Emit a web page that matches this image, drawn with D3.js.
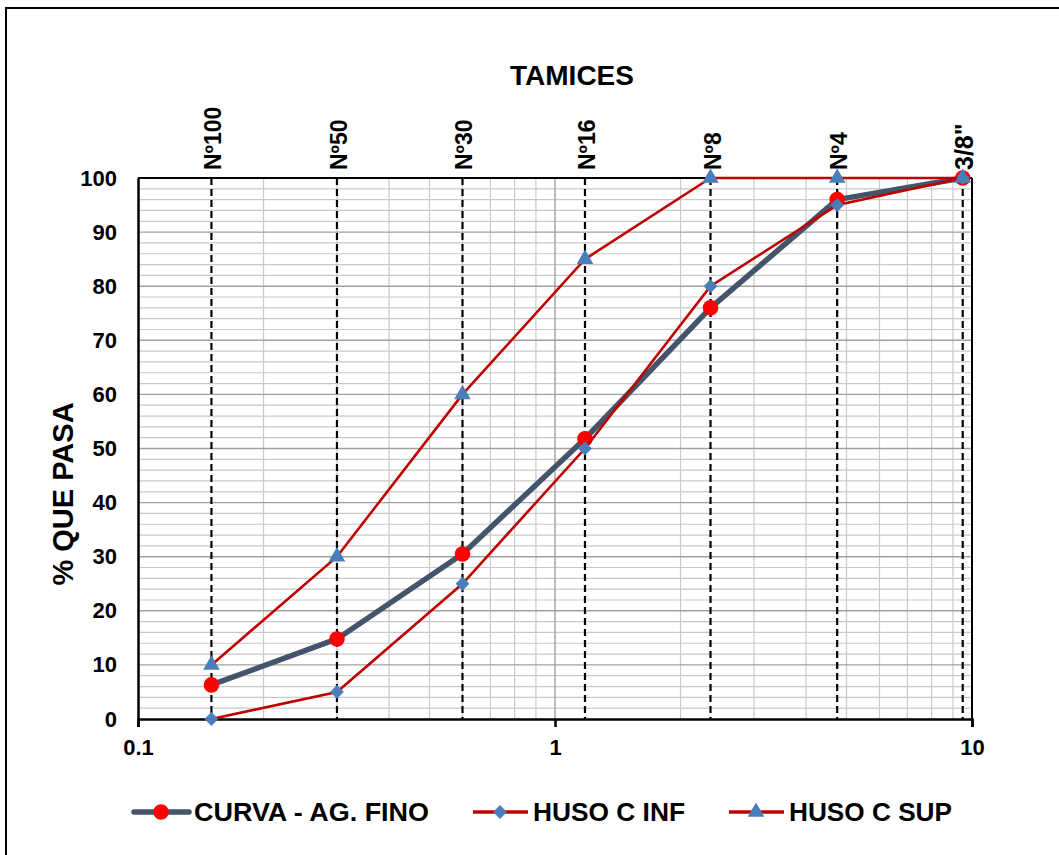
<!DOCTYPE html>
<html>
<head>
<meta charset="utf-8">
<script src="https://cdn.jsdelivr.net/npm/d3@7"></script>
<style>
  html, body { margin: 0; padding: 0; background: #fff; }
  svg { display: block; font-family: "Liberation Sans", Arial, sans-serif; font-weight: bold; }
</style>
</head>
<body>
<svg id="chart" width="1059" height="855"></svg>
<script>
// ---- data ----
const sieves = ["Nº100", "Nº50", "Nº30", "Nº16", "Nº8", "Nº4", "3/8\""];
const apertures = [0.15, 0.3, 0.6, 1.18, 2.36, 4.75, 9.5];
const curva = [6.3, 14.8, 30.5, 51.8, 76, 96, 100];
const husoInf = [0, 5, 25, 50, 80, 95, 100];
const husoSup = [10, 30, 60, 85, 100, 100, 100];
const xTicks = [0.1, 1, 10];
const yTicks = [0, 10, 20, 30, 40, 50, 60, 70, 80, 90, 100];
const seriesNames = ["CURVA - AG. FINO", "HUSO C INF", "HUSO C SUP"];

const svg = d3.select("#chart");
const L = 138, R = 972, T = 178, B = 719;
const x = d3.scaleLog().domain([0.1, 10]).range([L, R]);
const y = d3.scaleLinear().domain([0, 100]).range([B, T]);

// outer border
svg.append("rect").attr("x", 6).attr("y", 8).attr("width", 1070).attr("height", 870)
  .attr("fill", "none").attr("stroke", "#000").attr("stroke-width", 2);

// minor gridlines
const g = svg.append("g");
const yMinor = d3.range(0, 101, 2).filter(v => v % 10 !== 0);
g.selectAll(".hmin").data(yMinor).join("line")
  .attr("x1", L).attr("x2", R).attr("y1", d => y(d)).attr("y2", d => y(d))
  .attr("stroke", "#c9c9c9").attr("stroke-width", 1.2);
const xMinor = [];
[0.1, 1].forEach(dec => { for (let k = 2; k <= 9; k++) xMinor.push(dec * k); });
g.selectAll(".vmin").data(xMinor).join("line")
  .attr("x1", d => x(d)).attr("x2", d => x(d)).attr("y1", T).attr("y2", B)
  .attr("stroke", "#c9c9c9").attr("stroke-width", 1.2);
// major gridlines
g.selectAll(".hmaj").data(yTicks.slice(1, -1)).join("line")
  .attr("x1", L).attr("x2", R).attr("y1", d => y(d)).attr("y2", d => y(d))
  .attr("stroke", "#a0a0a0").attr("stroke-width", 1.4);
g.append("line").attr("x1", x(1)).attr("x2", x(1)).attr("y1", T).attr("y2", B)
  .attr("stroke", "#a0a0a0").attr("stroke-width", 1.4);

// sieve dashed lines
g.selectAll(".sieve").data(apertures).join("line")
  .attr("x1", d => x(d)).attr("x2", d => x(d)).attr("y1", T).attr("y2", B)
  .attr("stroke", "#000").attr("stroke-width", 2.2).attr("stroke-dasharray", "7,4");

// plot frame
svg.append("line").attr("x1", L).attr("x2", R).attr("y1", T).attr("y2", T).attr("stroke", "#000").attr("stroke-width", 2);
svg.append("line").attr("x1", R).attr("x2", R).attr("y1", T).attr("y2", B).attr("stroke", "#000").attr("stroke-width", 2);

// axes
const xAxis = svg.append("g").attr("transform", `translate(0,${B})`)
  .call(d3.axisBottom(x).tickValues(xTicks).tickFormat(d3.format("")).tickSize(8).tickPadding(12));
xAxis.select(".domain").attr("stroke", "#000").attr("stroke-width", 2.5);
xAxis.selectAll(".tick line").attr("stroke", "#000").attr("stroke-width", 2.5);
xAxis.selectAll("text").attr("font-size", 22).attr("font-weight", "bold").attr("fill", "#000")
  .attr("font-family", "Liberation Sans, Arial, sans-serif");

const yAxis = svg.append("g").attr("transform", `translate(${L},0)`)
  .call(d3.axisLeft(y).tickValues(yTicks).tickSize(0).tickPadding(21));
yAxis.select(".domain").attr("stroke", "#000").attr("stroke-width", 2.5);
yAxis.selectAll("text").attr("font-size", 22).attr("font-weight", "bold").attr("fill", "#000")
  .attr("font-family", "Liberation Sans, Arial, sans-serif");

// top sieve labels
svg.selectAll(".slab").data(sieves).join("text")
  .attr("transform", (d, i) => `translate(${x(apertures[i]) + 10},170) rotate(-90)`)
  .attr("font-size", (d, i) => i === 6 ? 25 : 23).attr("fill", "#000").text(d => d);

// titles
svg.append("text").attr("x", 572).attr("y", 85).attr("text-anchor", "middle")
  .attr("font-size", 28).text("TAMICES");
svg.append("text").attr("transform", "translate(73,494) rotate(-90)").attr("text-anchor", "middle")
  .attr("font-size", 29).text("%  QUE PASA");

// series
const line = d3.line().x((d, i) => x(apertures[i])).y(d => y(d));
svg.append("path").datum(curva).attr("d", line).attr("fill", "none")
  .attr("stroke", "#44546a").attr("stroke-width", 5.5).attr("stroke-linejoin", "round");
svg.selectAll(".cpt").data(curva).join("circle")
  .attr("cx", (d, i) => x(apertures[i])).attr("cy", d => y(d)).attr("r", 7.8).attr("fill", "#ff0000");

svg.append("path").datum(husoInf).attr("d", line).attr("fill", "none")
  .attr("stroke", "#c00000").attr("stroke-width", 2.6);
const diamond = d3.symbol().type(d3.symbolSquare).size(95);
svg.selectAll(".ipt").data(husoInf).join("path")
  .attr("d", diamond())
  .attr("transform", (d, i) => `translate(${x(apertures[i])},${y(d)}) rotate(45)`)
  .attr("fill", "#4a7ebb");

svg.append("path").datum(husoSup).attr("d", line).attr("fill", "none")
  .attr("stroke", "#c00000").attr("stroke-width", 2.6);
const tri = d3.symbol().type(d3.symbolTriangle).size(120);
svg.selectAll(".spt").data(husoSup).join("path")
  .attr("d", tri())
  .attr("transform", (d, i) => `translate(${x(apertures[i])},${y(d)})`)
  .attr("fill", "#4a7ebb");

// legend
const leg = svg.append("g");
const lx = [134, 473, 729];
const ly = 812;
const textW = [235, 152, 163];
// curva
leg.append("line").attr("x1", lx[0]).attr("x2", lx[0] + 55).attr("y1", ly).attr("y2", ly)
  .attr("stroke", "#44546a").attr("stroke-width", 5.5).attr("stroke-linecap", "round");
leg.append("circle").attr("cx", lx[0] + 27).attr("cy", ly).attr("r", 7.8).attr("fill", "#ff0000");
// inf
leg.append("line").attr("x1", lx[1]).attr("x2", lx[1] + 55).attr("y1", ly).attr("y2", ly)
  .attr("stroke", "#c00000").attr("stroke-width", 3.5);
leg.append("path").attr("d", diamond()).attr("transform", `translate(${lx[1] + 27},${ly}) rotate(45)`).attr("fill", "#4a7ebb");
// sup
leg.append("line").attr("x1", lx[2]).attr("x2", lx[2] + 55).attr("y1", ly).attr("y2", ly)
  .attr("stroke", "#c00000").attr("stroke-width", 3.5);
leg.append("path").attr("d", tri()).attr("transform", `translate(${lx[2] + 27},${ly})`).attr("fill", "#4a7ebb");
leg.selectAll(".lt").data(seriesNames).join("text")
  .attr("x", (d, i) => lx[i] + 60).attr("y", ly + 9)
  .attr("font-size", 25).attr("textLength", (d, i) => textW[i]).attr("lengthAdjust", "spacingAndGlyphs")
  .text(d => d);
</script>
</body>
</html>
